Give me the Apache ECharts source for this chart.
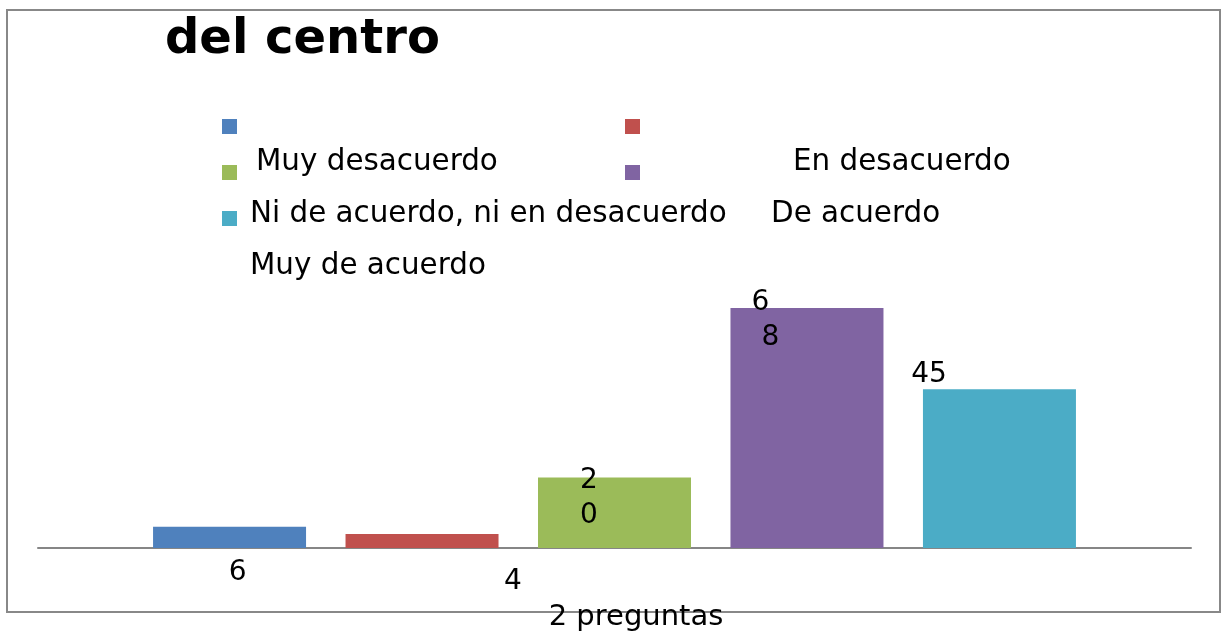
<!DOCTYPE html>
<html>
<head>
<meta charset="utf-8">
<style>
  html, body { margin: 0; padding: 0; background: #fff; }
  #chart { width: 1222px; height: 633px; }
</style>
<script src="https://cdn.jsdelivr.net/npm/echarts@6/dist/echarts.min.js"></script>
</head>
<body>
<div id="chart"></div>
<script>
// datos de la gráfica
const categories = ['2 preguntas'];
const seriesNames = ['Muy desacuerdo', 'En desacuerdo', 'Ni de acuerdo, ni en desacuerdo', 'De acuerdo', 'Muy de acuerdo'];
const values = [6, 4, 20, 68, 45];
const titleText = 'del centro';

// paleta Office
const COLORS = ['#4F81BD', '#C0504D', '#9BBB59', '#8064A2', '#4BACC6'];
const FONT = 'DejaVu Sans';

// etiquetas de datos colocadas como en el original (un poco desordenadas)
const LABELS = [
  { position: 'bottom', offset: [8, 2] },
  { position: 'bottom', offset: [91, 11] },
  { position: 'inside', offset: [-25.5, -14], wrap: true },
  { position: 'inside', offset: [-46.5, -107.5], wrap: true, shift: true },
  { position: 'top', offset: [-70.5, 8.5] },
];

// leyenda: cuadritos y textos desplazados
const LEGEND_ICONS = [[222, 119], [625, 119], [222, 165], [625, 165], [222, 211]];
const LEGEND_TEXTS = [[256, 162], [793, 162], [250, 214], [771, 214], [250, 266]];

const chart = echarts.init(document.getElementById('chart'));

function labelFor(i) {
  const cfg = LABELS[i];
  return {
    show: true,
    position: cfg.position,
    offset: cfg.offset,
    color: '#000',
    fontFamily: FONT,
    fontSize: 28,
    lineHeight: 35,
    formatter: (p) => {
      const s = String(p.value);
      if (!cfg.wrap) return s;
      if (cfg.shift) return '{a|' + s[0] + '}\n{b|' + s.slice(1) + '}';
      return s.split('').join('\n');
    },
    rich: {
      a: { fontFamily: FONT, fontSize: 28, lineHeight: 35, color: '#000' },
      b: { fontFamily: FONT, fontSize: 28, lineHeight: 35, color: '#000', padding: [0, 0, 0, 20] },
    },
  };
}

const legends = seriesNames.map((name, i) => ({
  data: [name],
  left: LEGEND_ICONS[i][0],
  top: LEGEND_ICONS[i][1],
  padding: 0,
  icon: 'rect',
  itemWidth: 15,
  itemHeight: 15,
  selectedMode: false,
  formatter: () => '',
  textStyle: { fontSize: 1 },
}));

const graphics = [
  {
    type: 'rect', z: -1, silent: true,
    shape: { x: 7, y: 10, width: 1213, height: 602 },
    style: { fill: 'none', stroke: '#888888', lineWidth: 2 },
  },
].concat(seriesNames.map((name, i) => ({
  type: 'text', silent: true,
  x: LEGEND_TEXTS[i][0], y: LEGEND_TEXTS[i][1],
  style: { text: name, font: '29.4px "DejaVu Sans"', fill: '#000', verticalAlign: 'middle' },
})));

const option = {
  animation: false,
  title: {
    text: titleText,
    left: 165,
    top: 17,
    padding: 0,
    textStyle: { fontFamily: FONT, fontSize: 48, fontWeight: 'bold', color: '#000' },
  },
  legend: legends,
  graphic: graphics,
  grid: { left: 38, right: 31, top: 265.6, bottom: 85 },
  xAxis: {
    type: 'category',
    data: categories,
    axisLine: { lineStyle: { color: '#868686', width: 2 } },
    axisTick: { show: false },
    axisLabel: { color: '#000', fontFamily: FONT, fontSize: 29, margin: 55, padding: [0, 0, 0, 43] },
  },
  yAxis: { type: 'value', min: 0, max: 80, show: false },
  series: seriesNames.map((name, i) => ({
    name: name,
    type: 'bar',
    data: [values[i]],
    barWidth: 153,
    barGap: '25.8%',
    itemStyle: { color: COLORS[i] },
    label: labelFor(i),
  })),
};

chart.setOption(option);
</script>
</body>
</html>
